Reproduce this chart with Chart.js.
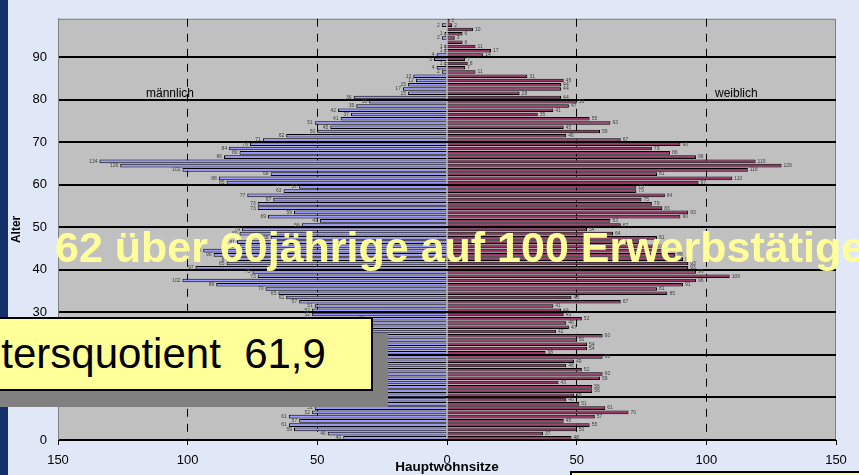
<!DOCTYPE html>
<html lang="de">
<head>
<meta charset="utf-8">
<script src="https://cdn.jsdelivr.net/npm/chart.js@4"></script>
<style>
  html, body { margin: 0; padding: 0; }
  body {
    width: 859px; height: 475px; overflow: hidden; position: relative;
    background: #E0E8F8; font-family: Arial, "Liberation Sans", sans-serif;
  }
  #stripe { position: absolute; left: 0; top: 0; width: 8px; height: 475px; background: #14306A; }
  #wrap { position: absolute; left: 0; top: 0; width: 859px; height: 475px; }
  .side { position: absolute; top: 86px; font-size: 12px; color: #000; white-space: nowrap; }
  #headline {
    position: absolute; left: 55px; top: 226px; white-space: nowrap;
    font-weight: bold; font-size: 43px; line-height: 43px; color: #FFFF99;
  }
  #shadow { position: absolute; left: -44px; top: 333px; width: 432px; height: 74px; background: #808080; }
  #quotient {
    position: absolute; left: -60px; top: 317px; width: 429px; height: 70px;
    background: #FFFF99; border: 2px solid #000;
  }
  #quotient span {
    position: absolute; left: 22px; top: 14px; white-space: pre;
    font-size: 42px; line-height: 42px; color: #000;
  }
  #note { position: absolute; left: 570px; top: 471px; width: 320px; height: 30px; background: #FFFF99; border: 2px solid #000; }
</style>
</head>
<body>
<div id="stripe"></div>
<div id="wrap"><canvas id="pyramid" width="859" height="475"></canvas></div>
<div class="side" style="left:146px">männlich</div>
<div class="side" style="left:715px">weiblich</div>
<div id="headline">62 über 60jährige auf 100 Erwerbstätige</div>
<div id="shadow"></div>
<div id="quotient"><span>Altersquotient  61,9</span></div>
<div id="note"></div>
<script>
// Alter 0..98
const ages = Array.from({ length: 99 }, (_, i) => i);

// männlich, Alter 0 bis 98
const male = [
  40, 46, 59, 61, 57, 61, 52, 51, 50, 53,
  52, 55, 54, 50, 57, 58, 55, 50, 52, 56,
  44, 55, 56, 51, 58, 47, 49, 47, 31, 52,
  52, 51, 57, 62, 65, 70, 89, 102, 73, 75,
  97, 85, 84, 90, 94, 80, 81, 68, 80, 79,
  56, 49, 69, 59, 73, 73, 67, 77, 63, 57,
  85, 88, 68, 102, 126, 134, 86, 80, 84, 76,
  71, 62, 50, 45, 51, 41, 37, 42, 35, 30,
  36, 15, 17, 15, 12, 13, 2, 4, 1, 5,
  4, 1, 1, 0, 2, 1, 0, 2, 0
];

// weiblich, Alter 0 bis 98
const female = [
  48, 37, 50, 55, 45, 57, 70, 61, 51, 46,
  49, 56, 56, 43, 59, 60, 52, 46, 49, 60,
  38, 54, 54, 50, 60, 42, 47, 46, 52, 45,
  44, 41, 67, 48, 85, 81, 91, 96, 109, 96,
  93, 93, 91, 88, 85, 80, 74, 81, 64, 54,
  67, 63, 90, 93, 83, 79, 75, 84, 73, 73,
  97, 110, 81, 116, 129, 119, 96, 86, 79, 90,
  67, 46, 59, 45, 63, 55, 35, 41, 47, 50,
  44, 28, 44, 44, 45, 31, 11, 7, 8, 7,
  14, 17, 11, 6, 3, 6, 10, 2, 1
];

const ageTicks = [0, 10, 20, 30, 40, 50, 60, 70, 80, 90];
const countTicks = [-150, -100, -50, 0, 50, 100, 150];

// grey plot area with thin frame
const plotBack = {
  id: 'plotBack',
  beforeDraw(chart) {
    const { ctx, chartArea: a } = chart;
    ctx.save();
    ctx.fillStyle = '#C0C0C0';
    ctx.fillRect(a.left, a.top, a.right - a.left, a.bottom - a.top);
    ctx.strokeStyle = '#808080';
    ctx.lineWidth = 1;
    ctx.strokeRect(a.left + 0.5, a.top + 0.5, a.right - a.left - 1, a.bottom - a.top);
    ctx.restore();
  }
};

// small value labels at the bar ends
const valueLabels = {
  id: 'valueLabels',
  afterDatasetsDraw(chart) {
    const ctx = chart.ctx;
    ctx.save();
    ctx.font = '5px Arial';
    ctx.fillStyle = '#404040';
    ctx.textBaseline = 'middle';
    chart.data.datasets.forEach((ds, i) => {
      chart.getDatasetMeta(i).data.forEach((bar, j) => {
        const v = Math.abs(ds.data[j].x);
        if (!v) return;
        if (i === 0) {
          ctx.textAlign = 'right';
          ctx.fillText(v, bar.x - 2, bar.y);
        } else {
          ctx.textAlign = 'left';
          ctx.fillText(v, bar.x + 2, bar.y);
        }
      });
    });
    ctx.restore();
  }
};

const ctx = document.getElementById('pyramid').getContext('2d');
const pyramid = new Chart(ctx, {
  type: 'bar',
  data: {
    datasets: [{
      label: 'männlich',
      data: ages.map(a => ({ x: -male[a], y: a + 0.5 })),
      backgroundColor: '#9999FF',
      borderColor: '#000',
      borderWidth: 1
    }, {
      label: 'weiblich',
      data: ages.map(a => ({ x: female[a], y: a + 0.5 })),
      backgroundColor: '#993366',
      borderColor: '#000',
      borderWidth: 1
    }]
  },
  options: {
    indexAxis: 'y',
    responsive: false,
    animation: false,
    grouped: false,
    barPercentage: 0.85,
    categoryPercentage: 1,
    layout: { padding: { top: 9, right: 23, left: 0, bottom: 0 } },
    plugins: {
      legend: { display: false },
      tooltip: { enabled: false }
    },
    scales: {
      y: {
        type: 'linear',
        min: 0,
        max: 99,
        offset: false,
        afterBuildTicks: s => { s.ticks = ageTicks.map(v => ({ value: v })); },
        afterFit: s => { s.width = 58; },
        grid: { color: '#000', lineWidth: 2, drawTicks: false, offset: false },
        border: { color: '#808080', width: 1 },
        ticks: { padding: 11, color: '#000', font: { family: 'Arial', size: 13 } },
        title: {
          display: true, text: 'Alter', color: '#000',
          font: { family: 'Arial', size: 12, weight: 'bold' },
          padding: { top: 9, bottom: 0 }
        }
      },
      x: {
        type: 'linear',
        min: -150,
        max: 150,
        afterBuildTicks: s => { s.ticks = countTicks.map(v => ({ value: v })); },
        afterFit: s => { s.height = 35; },
        grid: {
          color: c => (Math.abs(c.tick.value) === 50 || Math.abs(c.tick.value) === 100) ? '#000' : 'rgba(0,0,0,0)',
          tickColor: '#000',
          tickLength: 5,
          lineWidth: 1
        },
        border: { color: '#000', width: 1, dash: [8, 7] },
        ticks: {
          callback: v => Math.abs(v),
          padding: 8, maxRotation: 0, autoSkip: false,
          color: '#000', font: { family: 'Arial', size: 13 }
        },
        title: {
          display: true, text: 'Hauptwohnsitze', color: '#000',
          font: { family: 'Arial', size: 13.5, weight: 'bold' },
          padding: { top: 0, bottom: 0 }
        }
      }
    }
  },
  plugins: [plotBack, valueLabels]
});
</script>
</body>
</html>
